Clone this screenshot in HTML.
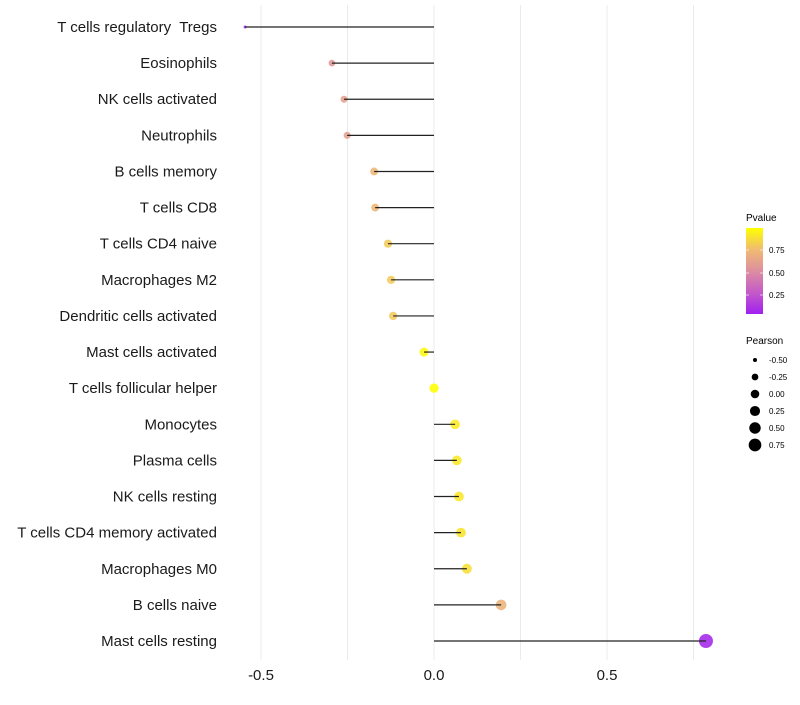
<!DOCTYPE html>
<html><head><meta charset="utf-8"><style>
body{margin:0;background:#fff;font-family:"Liberation Sans",sans-serif;}
svg text{font-family:"Liberation Sans",sans-serif;white-space:pre;}
</style></head><body>
<svg id="chart" width="800" height="700" xmlns="http://www.w3.org/2000/svg">
<g id="grid"></g>
<g id="ylabels"></g>
<g id="xlabels"></g>
<g id="marks"></g>
<g>
<text x="746" y="221" font-size="10" fill="#000">Pvalue</text>
<defs><linearGradient id="pg" x1="0" y1="1" x2="0" y2="0">
<stop offset="0" stop-color="#a020f0"/><stop offset="0.25" stop-color="#c45ac8"/><stop offset="0.5" stop-color="#dd8ea0"/><stop offset="0.75" stop-color="#f0bb72"/><stop offset="1" stop-color="#ffff00"/></linearGradient></defs>
<rect x="746" y="228" width="17" height="86" fill="url(#pg)"/>
<line x1="746" x2="749" y1="250" y2="250" stroke="#fff" opacity="0.6"/><line x1="760" x2="763" y1="250" y2="250" stroke="#fff" opacity="0.6"/>
<line x1="746" x2="749" y1="273" y2="273" stroke="#fff" opacity="0.6"/><line x1="760" x2="763" y1="273" y2="273" stroke="#fff" opacity="0.6"/>
<line x1="746" x2="749" y1="295" y2="295" stroke="#fff" opacity="0.6"/><line x1="760" x2="763" y1="295" y2="295" stroke="#fff" opacity="0.6"/>
<text x="769" y="253" font-size="8">0.75</text>
<text x="769" y="276" font-size="8">0.50</text>
<text x="769" y="298" font-size="8">0.25</text>
</g>
<g id="sizeleg">
<text x="746" y="344" font-size="10" fill="#000">Pearson</text>
</g>
</svg>
<script>
const categories=["T cells regulatory  Tregs","Eosinophils","NK cells activated","Neutrophils","B cells memory","T cells CD8","T cells CD4 naive","Macrophages M2","Dendritic cells activated","Mast cells activated","T cells follicular helper","Monocytes","Plasma cells","NK cells resting","T cells CD4 memory activated","Macrophages M0","B cells naive","Mast cells resting"];
const pearson=[-0.546,-0.295,-0.26,-0.251,-0.173,-0.17,-0.133,-0.124,-0.118,-0.029,0.0,0.061,0.066,0.072,0.078,0.095,0.194,0.786];
const pvalue=[0.03,0.55,0.6,0.6,0.72,0.72,0.8,0.8,0.8,0.97,1.0,0.92,0.92,0.91,0.9,0.88,0.7,0.03];
const xTicks=[-0.5,0,0.5];
const xTickLabels=["-0.5","0.0","0.5"];
const sizeBreaks=[-0.5,-0.25,0,0.25,0.5,0.75];
const sizeLabels=["-0.50","-0.25","0.00","0.25","0.50","0.75"];
const NS="http://www.w3.org/2000/svg";
const x=v=>434+v*346;
const y=i=>27+i*(641-27)/(categories.length-1);
const vmin=Math.min(...pearson),vmax=Math.max(...pearson);
const r=v=>Math.sqrt(2.25+Math.max(0,(v-vmin)/(vmax-vmin))*46.75);
const rl=v=>Math.sqrt(Math.max(3.5,18.4+28.8*v));
const stops=[[0,[160,32,240]],[0.25,[196,90,200]],[0.5,[221,142,160]],[0.75,[240,187,114]],[1,[255,255,0]]];
function col(p){for(let k=1;k<stops.length;k++){if(p<=stops[k][0]){const a=stops[k-1],b=stops[k];const t=(p-a[0])/(b[0]-a[0]);const c=a[1].map((u,j)=>Math.round(u+(b[1][j]-u)*t));return `rgb(${c})`;}}return "rgb(255,255,0)";}
function mk(tag,at,parent){const e=document.createElementNS(NS,tag);for(const k in at)e.setAttribute(k,at[k]);parent.appendChild(e);return e;}
const grid=document.getElementById('grid');
for(let v=-0.5;v<=0.75;v+=0.25){const g=mk('line',{x1:x(v),x2:x(v),y1:5,y2:660,stroke:'#ebebeb','stroke-width':1},grid);

}
const xl=document.getElementById('xlabels');
xTicks.forEach((v,i)=>{const t=mk('text',{x:x(v),y:680,'font-size':15,'text-anchor':'middle',fill:'#1a1a1a'},xl);t.textContent=xTickLabels[i];

});
const yl=document.getElementById('ylabels'),mg=document.getElementById('marks');
categories.forEach((c,i)=>{
const t=mk('text',{x:217,y:y(i)+5,'font-size':15,'text-anchor':'end',fill:'#1a1a1a'},yl);t.textContent=c;


const p=mk('circle',{cx:x(pearson[i]),cy:y(i),r:r(pearson[i]),fill:col(pvalue[i]),opacity:0.88},mg);


const l=mk('line',{x1:x(0),x2:x(pearson[i]),y1:y(i),y2:y(i),stroke:'#222','stroke-width':1.2},mg);

});
const sl=document.getElementById('sizeleg');
sizeBreaks.forEach((v,i)=>{const yy=360+i*17;
const c=mk('circle',{cx:755,cy:yy,r:rl(v),fill:'#000'},sl);


const t=mk('text',{x:769,y:yy+3,'font-size':8,fill:'#000'},sl);t.textContent=sizeLabels[i];

});
</script>
</body></html>
